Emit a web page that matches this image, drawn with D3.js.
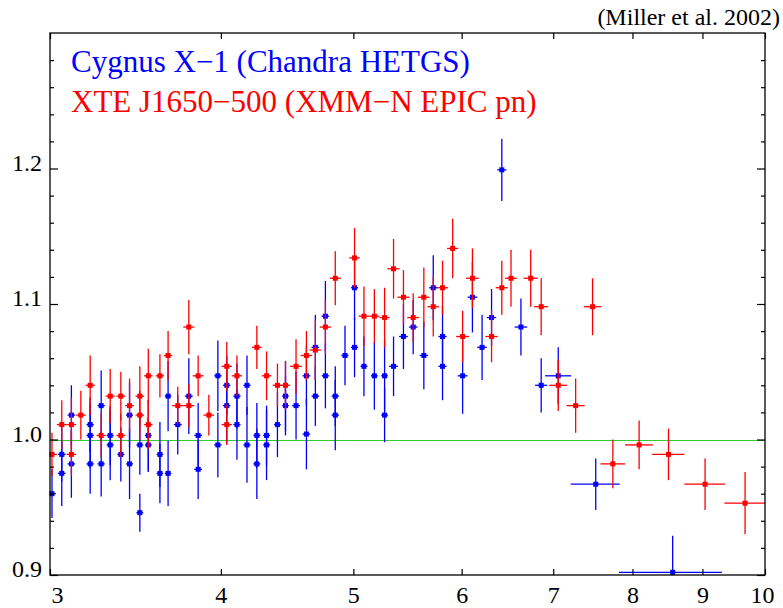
<!DOCTYPE html>
<html><head><meta charset="utf-8">
<script src="https://cdn.jsdelivr.net/npm/d3@7"></script>
<style>
body{margin:0;background:#fff}
text{font-family:"Liberation Serif","Times New Roman",serif}
</style>
</head><body>
<svg id="c" width="783" height="608"></svg>
<script>
// ---- data (energy keV, ratio, errors) ----
const blueE  = [3.01,3.06,3.06,3.11,3.11,3.21,3.21,3.21,3.27,3.27,3.32,3.32,3.38,3.43,3.43,3.49,3.49,3.54,3.54,3.61,3.61,3.66,3.66,3.72,3.79,3.85,3.85,3.98,3.98,4.04,4.04,4.11,4.11,4.18,4.18,4.25,4.25,4.32,4.32,4.40,4.46,4.46,4.54,4.62,4.62,4.69,4.69,4.77,4.77,4.85,4.85,4.93,5.01,5.01,5.09,5.18,5.27,5.27,5.35,5.44,5.53,5.63,5.72,5.81,5.81,6.01,6.11,6.21,6.31,6.42,6.63,6.86,7.06,7.52,8.56];
const blueV  = [0.960,0.989,0.975,1.018,0.982,1.011,1.003,0.982,1.025,0.982,1.003,0.996,0.989,1.018,0.982,0.996,0.946,1.003,0.996,0.989,0.975,1.032,0.975,1.011,1.032,1.003,0.978,1.047,0.996,1.040,1.025,1.032,1.011,1.040,0.996,1.003,0.982,1.003,0.996,1.011,1.032,1.025,1.025,1.047,1.004,1.068,1.032,1.091,1.047,1.032,1.018,1.062,1.112,1.068,1.054,1.047,1.047,1.018,1.054,1.076,1.083,1.062,1.112,1.076,1.054,1.047,1.105,1.068,1.090,1.199,1.083,1.040,1.047,0.967,0.902];
const blueEy = [0.018,0.020,0.024,0.022,0.025,0.020,0.024,0.022,0.026,0.024,0.022,0.026,0.020,0.024,0.026,0.022,0.014,0.026,0.020,0.024,0.022,0.026,0.024,0.022,0.028,0.024,0.022,0.026,0.024,0.022,0.028,0.024,0.026,0.022,0.028,0.024,0.026,0.022,0.026,0.024,0.026,0.022,0.025,0.022,0.026,0.024,0.022,0.026,0.024,0.022,0.026,0.022,0.024,0.022,0.022,0.025,0.026,0.020,0.022,0.024,0.020,0.025,0.024,0.022,0.025,0.028,0.026,0.024,0.021,0.023,0.021,0.020,0.021,0.019,0.027];
const blueEx = [0.02,0.02,0.02,0.02,0.02,0.02,0.02,0.02,0.02,0.02,0.02,0.02,0.02,0.02,0.02,0.02,0.02,0.02,0.02,0.02,0.02,0.02,0.02,0.025,0.025,0.025,0.025,0.025,0.025,0.025,0.025,0.025,0.025,0.025,0.025,0.025,0.025,0.025,0.025,0.025,0.025,0.025,0.03,0.03,0.03,0.03,0.03,0.03,0.03,0.03,0.03,0.03,0.03,0.03,0.03,0.03,0.03,0.03,0.04,0.04,0.04,0.04,0.04,0.04,0.04,0.05,0.05,0.05,0.05,0.05,0.07,0.07,0.155,0.31,0.74];

const redE  = [3.01,3.06,3.11,3.11,3.16,3.21,3.27,3.32,3.38,3.38,3.43,3.49,3.49,3.54,3.54,3.61,3.66,3.72,3.79,3.79,3.85,3.92,4.04,4.04,4.11,4.25,4.32,4.40,4.46,4.54,4.62,4.69,4.77,4.85,5.01,5.09,5.18,5.27,5.35,5.44,5.53,5.63,5.72,5.81,5.91,6.01,6.11,6.31,6.42,6.52,6.74,6.86,7.06,7.27,7.48,7.74,8.09,8.50,9.04,9.67];
const redV  = [0.989,1.011,1.011,0.989,1.018,1.040,1.003,1.032,1.032,1.003,1.025,1.018,1.032,1.047,1.011,1.047,1.062,1.025,1.083,1.025,1.047,1.018,1.011,1.054,1.047,1.068,1.047,1.040,1.040,1.054,1.062,1.066,1.083,1.119,1.134,1.091,1.091,1.090,1.126,1.105,1.090,1.105,1.098,1.112,1.141,1.076,1.119,1.076,1.112,1.119,1.119,1.098,1.040,1.025,1.098,0.982,0.996,0.989,0.967,0.953];
const redEy = [0.016,0.018,0.020,0.016,0.018,0.022,0.016,0.020,0.018,0.016,0.020,0.018,0.022,0.020,0.018,0.016,0.018,0.014,0.020,0.016,0.015,0.015,0.015,0.018,0.015,0.016,0.018,0.016,0.018,0.020,0.018,0.022,0.020,0.020,0.022,0.022,0.020,0.022,0.022,0.020,0.018,0.022,0.022,0.020,0.022,0.019,0.022,0.019,0.020,0.021,0.021,0.021,0.019,0.020,0.021,0.018,0.018,0.019,0.019,0.023];
const redEx = [0.025,0.025,0.025,0.025,0.025,0.025,0.025,0.025,0.025,0.025,0.025,0.025,0.025,0.025,0.025,0.025,0.025,0.035,0.035,0.035,0.035,0.035,0.035,0.035,0.035,0.035,0.035,0.035,0.035,0.045,0.045,0.045,0.045,0.045,0.045,0.045,0.045,0.045,0.055,0.055,0.055,0.055,0.055,0.055,0.055,0.065,0.065,0.065,0.065,0.065,0.08,0.08,0.105,0.11,0.11,0.16,0.19,0.23,0.31,0.33];

const xTicks = [3,4,5,6,7,8,9,10];
const yTicks = [0.9,1.0,1.1,1.2];
const yMinorTicks = [0.92,0.94,0.96,0.98,1.02,1.04,1.06,1.08,1.12,1.14,1.16,1.18,1.22,1.24,1.26,1.28];
const legendLines = ["Cygnus X\u22121 (Chandra HETGS)", "XTE J1650\u2212500 (XMM\u2212N EPIC pn)"];
const citation = "(Miller et al. 2002)";

// ---- layout ----
const L = 50, R = 765, T = 33, B = 575;
const FONT = "Liberation Serif, Times New Roman, serif";
const svg = d3.select("#c");
const x = d3.scaleLog().domain([3,10]).range([L,R]);
const y = d3.scaleLinear().domain([0.9,1.3]).range([B,T]);

// reference line at 1.0
svg.append("line").attr("x1",L).attr("x2",R).attr("y1",Math.round(y(1.0))+0.5).attr("y2",Math.round(y(1.0))+0.5)
  .attr("stroke","#33cc33").attr("stroke-width",1);

function drawSeries(E,V,Ey,Ex,color){
  const g = svg.append("g");
  const idx = d3.range(E.length);
  g.selectAll("line.v").data(idx).join("line").attr("class","v")
    .attr("x1",i=>x(E[i])).attr("x2",i=>x(E[i]))
    .attr("y1",i=>y(Math.max(0.9,V[i]-Ey[i]))).attr("y2",i=>y(V[i]+Ey[i]))
    .attr("stroke",color).attr("stroke-width",1.3);
  g.selectAll("line.h").data(idx).join("line").attr("class","h")
    .attr("x1",i=>x(Math.max(3,E[i]-Ex[i]))).attr("x2",i=>x(Math.min(10,E[i]+Ex[i])))
    .attr("y1",i=>y(V[i])).attr("y2",i=>y(V[i]))
    .attr("stroke",color).attr("stroke-width",1.3);
  g.selectAll("rect").data(idx).join("rect")
    .attr("x",i=>x(E[i])-2.5).attr("y",i=>y(V[i])-2.5)
    .attr("width",5).attr("height",5).attr("fill",color);
}
drawSeries(blueE,blueV,blueEy,blueEx,"#0000ff");
drawSeries(redE,redV,redEy,redEx,"#ff0000");

// ---- axes ----
const gB = svg.append("g").attr("transform",`translate(0,${B})`)
  .call(d3.axisBottom(x).tickValues(xTicks).tickSize(-6).tickPadding(11).tickFormat(d3.format("d")));
gB.selectAll("text").filter(d=>d===3).attr("dx",7);
gB.selectAll("text").filter(d=>d===10).attr("dx",-3);
const gT = svg.append("g").attr("transform",`translate(0,${T})`)
  .call(d3.axisTop(x).tickValues(xTicks).tickSize(-6).tickFormat(""));
const gL = svg.append("g").attr("transform",`translate(${L},0)`)
  .call(d3.axisLeft(y).tickValues(yTicks).tickSize(-8).tickPadding(8).tickFormat(d3.format(".1f")));
gL.selectAll("text").attr("dy","0.08em");
const gLm = svg.append("g").attr("transform",`translate(${L},0)`)
  .call(d3.axisLeft(y).tickValues(yMinorTicks).tickSize(-4).tickFormat(""));
const gR = svg.append("g").attr("transform",`translate(${R},0)`)
  .call(d3.axisRight(y).tickValues(yTicks).tickSize(-8).tickFormat(""));
const gRm = svg.append("g").attr("transform",`translate(${R},0)`)
  .call(d3.axisRight(y).tickValues(yMinorTicks).tickSize(-4).tickFormat(""));
[gB,gT,gL,gLm,gR,gRm].forEach(g=>{
  g.select(".domain").remove();
  g.selectAll("line").attr("stroke","#000").attr("stroke-width",1.2);
  g.selectAll("text").attr("font-family",FONT).attr("font-size",24).attr("fill","#000");
});

// frame
svg.append("rect").attr("x",L).attr("y",T).attr("width",R-L).attr("height",B-T)
  .attr("fill","none").attr("stroke","#000").attr("stroke-width",1.3);

// legend text
const legendColors = ["#0000ff","#ff0000"];
svg.selectAll("text.leg").data(legendLines).join("text").attr("class","leg")
  .attr("x",71).attr("y",(d,i)=>72+i*40).attr("font-family",FONT)
  .attr("font-size",31).attr("fill",(d,i)=>legendColors[i]).text(d=>d);

// citation
svg.append("text").attr("x",780).attr("y",25).attr("text-anchor","end").attr("font-family",FONT)
  .attr("font-size",24).attr("fill","#000").text(citation);
</script>
</body></html>
